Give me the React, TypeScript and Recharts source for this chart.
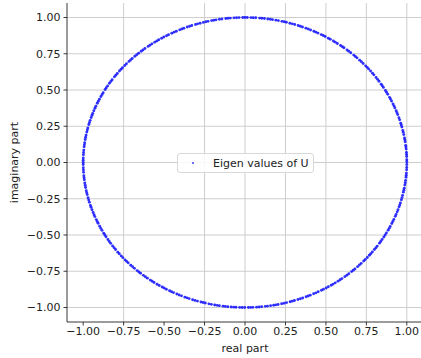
import { ScatterChart, Scatter, XAxis, YAxis, CartesianGrid, Legend } from 'recharts';

// phases (degrees) of the eigenvalues of U
const eigenPhaseDeg = [
    0.3, 1.1, 2.4, 3.2, 4.0, 5.3, 6.1, 6.8, 8.2, 9.0, 9.7, 11.1, 12.0, 12.8, 14.2, 15.0, 15.7, 17.1, 18.0, 19.3,
    20.1, 20.9, 22.2, 23.0, 23.8, 25.1, 26.0, 26.7, 28.1, 29.0, 29.8, 31.2, 32.0, 32.7, 34.1, 35.0, 35.9, 37.2, 38.0, 39.1,
    40.2, 41.0, 41.8, 43.1, 44.0, 44.9, 46.2, 47.0, 47.8, 49.2, 50.1, 50.9, 52.3, 53.0, 53.8, 55.2, 56.1, 56.9, 58.2, 59.0,
    60.3, 61.1, 61.9, 63.2, 64.0, 64.8, 66.1, 67.0, 67.9, 69.2, 70.0, 70.8, 72.1, 73.0, 73.9, 75.2, 76.0, 76.8, 78.1, 79.0,
    80.2, 81.0, 81.9, 83.1, 84.0, 84.8, 86.2, 87.1, 87.9, 89.2, 90.0, 90.8, 92.1, 93.0, 93.9, 95.2, 96.0, 96.8, 98.2, 99.1,
    100.3, 101.1, 101.9, 103.2, 104.0, 104.9, 106.1, 107.0, 107.8, 109.2, 110.0, 110.9, 112.2, 113.0, 113.8, 115.1, 116.0, 116.9, 118.2, 119.0,
    120.1, 121.0, 122.2, 123.0, 123.9, 125.1, 126.0, 126.8, 128.2, 129.1, 129.9, 131.1, 132.0, 132.9, 134.2, 135.0, 135.8, 137.1, 138.0, 139.2,
    140.0, 140.9, 142.1, 143.0, 143.8, 145.2, 146.0, 146.9, 148.1, 149.0, 149.8, 151.2, 152.0, 152.9, 154.1, 155.0, 155.9, 157.2, 158.0, 159.1,
    160.2, 161.0, 161.9, 163.1, 164.0, 164.8, 166.2, 167.0, 167.9, 169.1, 170.0, 170.9, 172.2, 173.0, 173.8, 175.1, 176.0, 176.9, 178.2, 179.1,
    180.0, 180.8, 182.1, 183.0, 183.9, 185.2, 186.0, 186.8, 188.1, 189.0, 189.9, 191.2, 192.0, 192.8, 194.1, 195.0, 195.9, 197.2, 198.0, 199.0,
    200.2, 201.1, 201.9, 203.2, 204.0, 204.8, 206.1, 207.0, 207.9, 209.2, 210.0, 210.8, 212.1, 213.0, 213.9, 215.1, 216.0, 216.9, 218.2, 219.0,
    220.1, 221.0, 222.2, 223.0, 223.8, 225.1, 226.0, 226.9, 228.2, 229.0, 229.8, 231.1, 232.0, 232.9, 234.2, 235.0, 235.8, 237.1, 238.0, 239.2,
    240.0, 240.9, 242.2, 243.0, 243.8, 245.1, 246.0, 246.9, 248.2, 249.0, 249.8, 251.1, 252.0, 252.9, 254.2, 255.0, 255.8, 257.1, 258.0, 259.2,
    260.1, 260.9, 262.2, 263.0, 263.9, 265.1, 266.0, 266.8, 268.1, 269.0, 269.9, 271.2, 272.0, 272.8, 274.1, 275.0, 275.9, 277.2, 278.0, 279.1,
    280.2, 281.0, 281.8, 283.1, 284.0, 284.9, 286.2, 287.0, 287.8, 289.1, 290.0, 290.9, 292.2, 293.0, 293.8, 295.1, 296.0, 296.9, 298.2, 299.0,
    300.1, 301.0, 302.2, 303.0, 303.9, 305.1, 306.0, 306.8, 308.1, 309.0, 309.9, 311.2, 312.0, 312.8, 314.1, 315.0, 315.9, 317.2, 318.0, 319.1,
    320.2, 321.0, 321.9, 323.1, 324.0, 324.8, 326.2, 327.0, 327.9, 329.1, 330.0, 330.9, 332.2, 333.0, 333.8, 335.1, 336.0, 336.9, 338.2, 339.0,
    340.1, 341.0, 342.2, 343.0, 343.8, 345.1, 346.0, 346.9, 348.2, 349.0, 349.8, 351.1, 352.0, 352.9, 354.2, 355.0, 355.8, 357.1, 358.0, 359.2,
];

const axisTicks = [-1, -0.75, -0.5, -0.25, 0, 0.25, 0.5, 0.75, 1];
const axisDomain = [-1.1, 1.1];
const seriesName = 'Eigen values of U';

const FONT = '"DejaVu Sans", sans-serif';
const fmt = (v: number) => v.toFixed(2).replace('-', '\u2212');

const Dot = (props: any) => {
    const { cx, cy } = props;
    return <circle cx={cx} cy={cy} r={1.45} fill="#1a1aff" fillOpacity={0.9} />;
};

const LegendBox = () => (
    <div
        style={{
            display: 'flex',
            alignItems: 'center',
            height: 20,
            boxSizing: 'border-box',
            border: '1px solid #d8d8d8',
            borderRadius: 3,
            background: 'rgba(255,255,255,0.85)',
            fontFamily: FONT,
            fontSize: 11,
            color: '#222',
        }}
    >
        <span style={{ width: 2, height: 2, background: '#7070ff', marginLeft: 14, marginRight: 19 }} />
        <span>{seriesName}</span>
    </div>
);

const YLabel = (props: any) => {
    const vb = props.viewBox || {};
    const x = 14;
    const y = vb.y + vb.height / 2;
    return (
        <text
            x={x}
            y={y}
            transform={`rotate(-90 ${x} ${y})`}
            textAnchor="middle"
            dominantBaseline="central"
            fontFamily={FONT}
            fontSize={11}
            fill="#222"
        >
            imaginary part
        </text>
    );
};

export default function App() {
    const data = eigenPhaseDeg.map((d) => ({
        re: Math.cos((d * Math.PI) / 180),
        im: Math.sin((d * Math.PI) / 180),
    }));

    const tickStyle = { fontFamily: FONT, fontSize: 11, fill: '#222' };

    return (
        <div style={{ position: 'absolute', left: 0, top: 0, width: 421, height: 358, overflow: 'hidden', background: '#fff' }}>
            <ScatterChart width={423} height={358} margin={{ top: 3, right: 0, left: 0, bottom: 0 }}>
                <CartesianGrid stroke="#c8c8c8" strokeWidth={0.9} horizontalValues={axisTicks} verticalValues={axisTicks} />
                <XAxis
                    type="number"
                    dataKey="re"
                    domain={axisDomain}
                    ticks={axisTicks}
                    allowDataOverflow
                    tickFormatter={fmt}
                    tick={tickStyle}
                    tickSize={3.5}
                    tickMargin={2}
                    height={36}
                    stroke="#222"
                    strokeWidth={0.9}
                    label={{ value: 'real part', position: 'insideBottom', offset: 6, style: { fontFamily: FONT, fontSize: 11, fill: '#222' } }}
                />
                <XAxis
                    xAxisId="top"
                    orientation="top"
                    type="number"
                    domain={axisDomain}
                    allowDataOverflow
                    tick={false}
                    tickLine={false}
                    height={0}
                    stroke="#222"
                    strokeWidth={0.9}
                />
                <YAxis
                    type="number"
                    dataKey="im"
                    domain={axisDomain}
                    ticks={axisTicks}
                    allowDataOverflow
                    tickFormatter={fmt}
                    tick={tickStyle}
                    tickSize={3.5}
                    tickMargin={3}
                    width={67}
                    stroke="#222"
                    strokeWidth={0.9}
                    label={<YLabel />}
                />
                <Legend
                    verticalAlign="middle"
                    align="center"
                    content={<LegendBox />}
                    wrapperStyle={{ left: 177, top: 153, width: 137 }}
                />
                <Scatter name={seriesName} data={data} shape={<Dot />} isAnimationActive={false} />
            </ScatterChart>
        </div>
    );
}
